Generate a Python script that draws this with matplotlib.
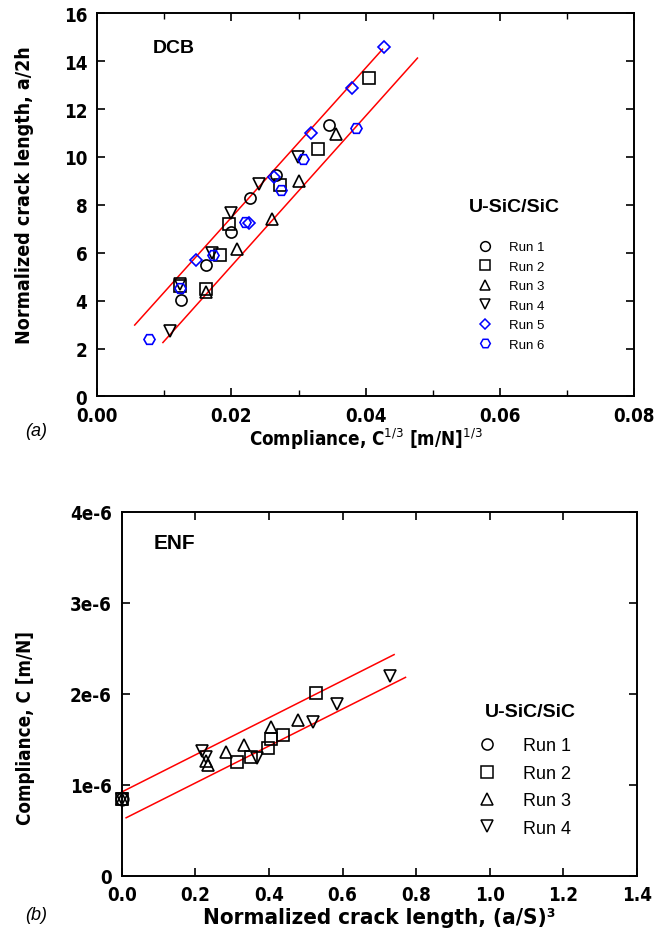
import matplotlib
matplotlib.use("Agg")
import matplotlib.pyplot as plt
from matplotlib.lines import Line2D

narrow = ['DejaVu Sans Condensed', 'Liberation Sans Narrow', 'DejaVu Sans']
plt.rcParams['font.family'] = narrow
plt.rcParams['font.stretch'] = 'condensed'
plain = ['Liberation Sans', 'DejaVu Sans']

# (a) DCB data: compliance^(1/3) vs normalized crack length
dcb_x1 = [0.0345, 0.0266, 0.0228, 0.0199, 0.0162, 0.0125]
dcb_y1 = [11.32, 9.26, 8.30, 6.88, 5.47, 4.03]
dcb_x2 = [0.0405, 0.0329, 0.0272, 0.0197, 0.0183, 0.0162, 0.0124]
dcb_y2 = [13.28, 10.34, 8.84, 7.18, 5.90, 4.47, 4.63]
dcb_x3 = [0.0355, 0.0300, 0.0260, 0.0208, 0.0162]
dcb_y3 = [10.94, 9.00, 7.39, 6.15, 4.36]
dcb_x4 = [0.0299, 0.0241, 0.0200, 0.0171, 0.0124, 0.0109]
dcb_y4 = [9.99, 8.87, 7.65, 5.97, 4.70, 2.74]
dcb_x5 = [0.0427, 0.0379, 0.0318, 0.0263, 0.0226, 0.0148]
dcb_y5 = [14.58, 12.87, 11.00, 9.16, 7.23, 5.71]
dcb_x6 = [0.0385, 0.0307, 0.0274, 0.0220, 0.0172, 0.0124, 0.0078]
dcb_y6 = [11.22, 9.92, 8.63, 7.27, 5.90, 4.53, 2.39]
dcb_upper_x = [0.0056, 0.0425]
dcb_upper_y = [2.98, 14.50]
dcb_lower_x = [0.0098, 0.0477]
dcb_lower_y = [2.25, 14.13]

# (b) ENF data: normalized crack length vs compliance
enf_x1 = [0.0]
enf_y1 = [0.84e-6]
enf_x2 = [0.0, 0.529, 0.439, 0.406, 0.398, 0.350, 0.313]
enf_y2 = [0.84e-6, 2.01e-6, 1.55e-6, 1.505e-6, 1.40e-6, 1.31e-6, 1.25e-6]
enf_x3 = [0.0, 0.479, 0.406, 0.333, 0.283, 0.230, 0.235]
enf_y3 = [0.84e-6, 1.71e-6, 1.63e-6, 1.44e-6, 1.36e-6, 1.256e-6, 1.22e-6]
enf_x4 = [0.0, 0.729, 0.584, 0.520, 0.368, 0.218, 0.230]
enf_y4 = [0.84e-6, 2.19e-6, 1.89e-6, 1.69e-6, 1.29e-6, 1.37e-6, 1.30e-6]
enf_upper_x = [0.0, 0.740]
enf_upper_y = [0.92e-6, 2.43e-6]
enf_lower_x = [0.012, 0.771]
enf_lower_y = [0.637e-6, 2.18e-6]

runs = ['Run 1', 'Run 2', 'Run 3', 'Run 4', 'Run 5', 'Run 6']
markers = ['o', 's', '^', 'v', 'D', 'H']
colors = ['black', 'black', 'black', 'black', 'blue', 'blue']

fig = plt.figure(figsize=(6.65, 9.53), dpi=100)
ax1 = fig.add_axes([0.146, 0.583, 0.808, 0.402])
ax2 = fig.add_axes([0.183, 0.080, 0.775, 0.382])


def style(ax):
    for s in ax.spines.values():
        s.set_linewidth(1.4)
    ax.tick_params(direction='in', length=6, width=1.2, top=True, right=True, pad=7)
    ax.tick_params(which='minor', direction='in', length=4, width=1.0, top=True, right=True)
    for lab in ax.get_xticklabels() + ax.get_yticklabels():
        lab.set_fontsize(13.5)
        lab.set_fontweight('bold')


# ---- (a) DCB
dcb = [(dcb_x1, dcb_y1), (dcb_x2, dcb_y2), (dcb_x3, dcb_y3),
       (dcb_x4, dcb_y4), (dcb_x5, dcb_y5), (dcb_x6, dcb_y6)]
ax1.plot(dcb_upper_x, dcb_upper_y, color='red', lw=1.1)
ax1.plot(dcb_lower_x, dcb_lower_y, color='red', lw=1.1)
for (x, y), m, c in zip(dcb, markers, colors):
    ms = 6 if m == 'D' else 8
    ax1.plot(x, y, linestyle='none', marker=m, ms=ms, mfc='none', mec=c, mew=1.2)

ax1.set_xlim(0, 0.08)
ax1.set_ylim(0, 16)
ax1.set_xticks([0.0, 0.02, 0.04, 0.06, 0.08])
ax1.set_xticks([0.01, 0.03, 0.05, 0.07], minor=True)
ax1.set_yticks(range(0, 17, 2))
ax1.set_xticklabels(['0.00', '0.02', '0.04', '0.06', '0.08'])
style(ax1)
ax1.set_xlabel('Compliance, C$^{1/3}$ [m/N]$^{1/3}$', fontsize=13.5, fontweight='bold', labelpad=0.5)
ax1.set_ylabel('Normalized crack length, a/2h', fontsize=14, fontweight='bold')
ax1.yaxis.set_label_coords(-0.117, 0.527)
ax1.text(0.104, 0.91, 'DCB', transform=ax1.transAxes, fontsize=14, fontweight='bold',
         family=plain, stretch='normal', va='center')
ax1.text(0.692, 0.495, 'U-SiC/SiC', transform=ax1.transAxes, fontsize=14, fontweight='bold',
         family=plain, stretch='normal', va='center')
h1 = [Line2D([], [], linestyle='none', marker=m, ms=(5 if m == 'D' else 7), mfc='none', mec=c, mew=1.1)
      for m, c in zip(markers, colors)]
ax1.legend(h1, runs, loc='upper left', bbox_to_anchor=(0.695, 0.423), frameon=False,
           prop={'family': plain, 'stretch': 'normal', 'size': 9.5},
           handlelength=1.2, handletextpad=1.2, labelspacing=0.55, borderpad=0)

# ---- (b) ENF
enf = [(enf_x1, enf_y1), (enf_x2, enf_y2), (enf_x3, enf_y3), (enf_x4, enf_y4)]
ax2.plot(enf_upper_x, enf_upper_y, color='red', lw=1.1, clip_on=False)
ax2.plot(enf_lower_x, enf_lower_y, color='red', lw=1.1)
for (x, y), m in zip(enf, markers[:4]):
    ax2.plot(x, y, linestyle='none', marker=m, ms=9, mfc='none', mec='black', mew=1.2, clip_on=False)

ax2.set_xlim(0, 1.4)
ax2.set_ylim(0, 4e-6)
ax2.set_xticks([0.0, 0.2, 0.4, 0.6, 0.8, 1.0, 1.2, 1.4])
ax2.set_xticklabels(['0.0', '0.2', '0.4', '0.6', '0.8', '1.0', '1.2', '1.4'])
ax2.set_yticks([0, 1e-6, 2e-6, 3e-6, 4e-6])
ax2.set_yticklabels(['0', '1e-6', '2e-6', '3e-6', '4e-6'])
style(ax2)
ax2.set_xlabel('Normalized crack length, (a/S)\u00b3', fontsize=16, fontweight='bold', labelpad=2)
ax2.set_ylabel('Compliance, C [m/N]', fontsize=13.5, fontweight='bold')
ax2.yaxis.set_label_coords(-0.168, 0.41)
ax2.text(0.062, 0.915, 'ENF', transform=ax2.transAxes, fontsize=15, fontweight='bold',
         family=plain, stretch='normal', va='center')
ax2.text(0.705, 0.45, 'U-SiC/SiC', transform=ax2.transAxes, fontsize=14, fontweight='bold',
         family=plain, stretch='normal', va='center')
h2 = [Line2D([], [], linestyle='none', marker=m, ms=8, mfc='none', mec='black', mew=1.1)
      for m in markers[:4]]
ax2.legend(h2, runs[:4], loc='upper left', bbox_to_anchor=(0.67, 0.405), frameon=False,
           prop={'family': plain, 'stretch': 'normal', 'size': 13},
           handlelength=1.2, handletextpad=1.4, labelspacing=0.58, borderpad=0)

fig.text(0.038, 0.542, '(a)', fontsize=13, style='italic', family=plain, stretch='normal')
fig.text(0.038, 0.035, '(b)', fontsize=13, style='italic', family=plain, stretch='normal')

fig.savefig('out.png', dpi=100)
